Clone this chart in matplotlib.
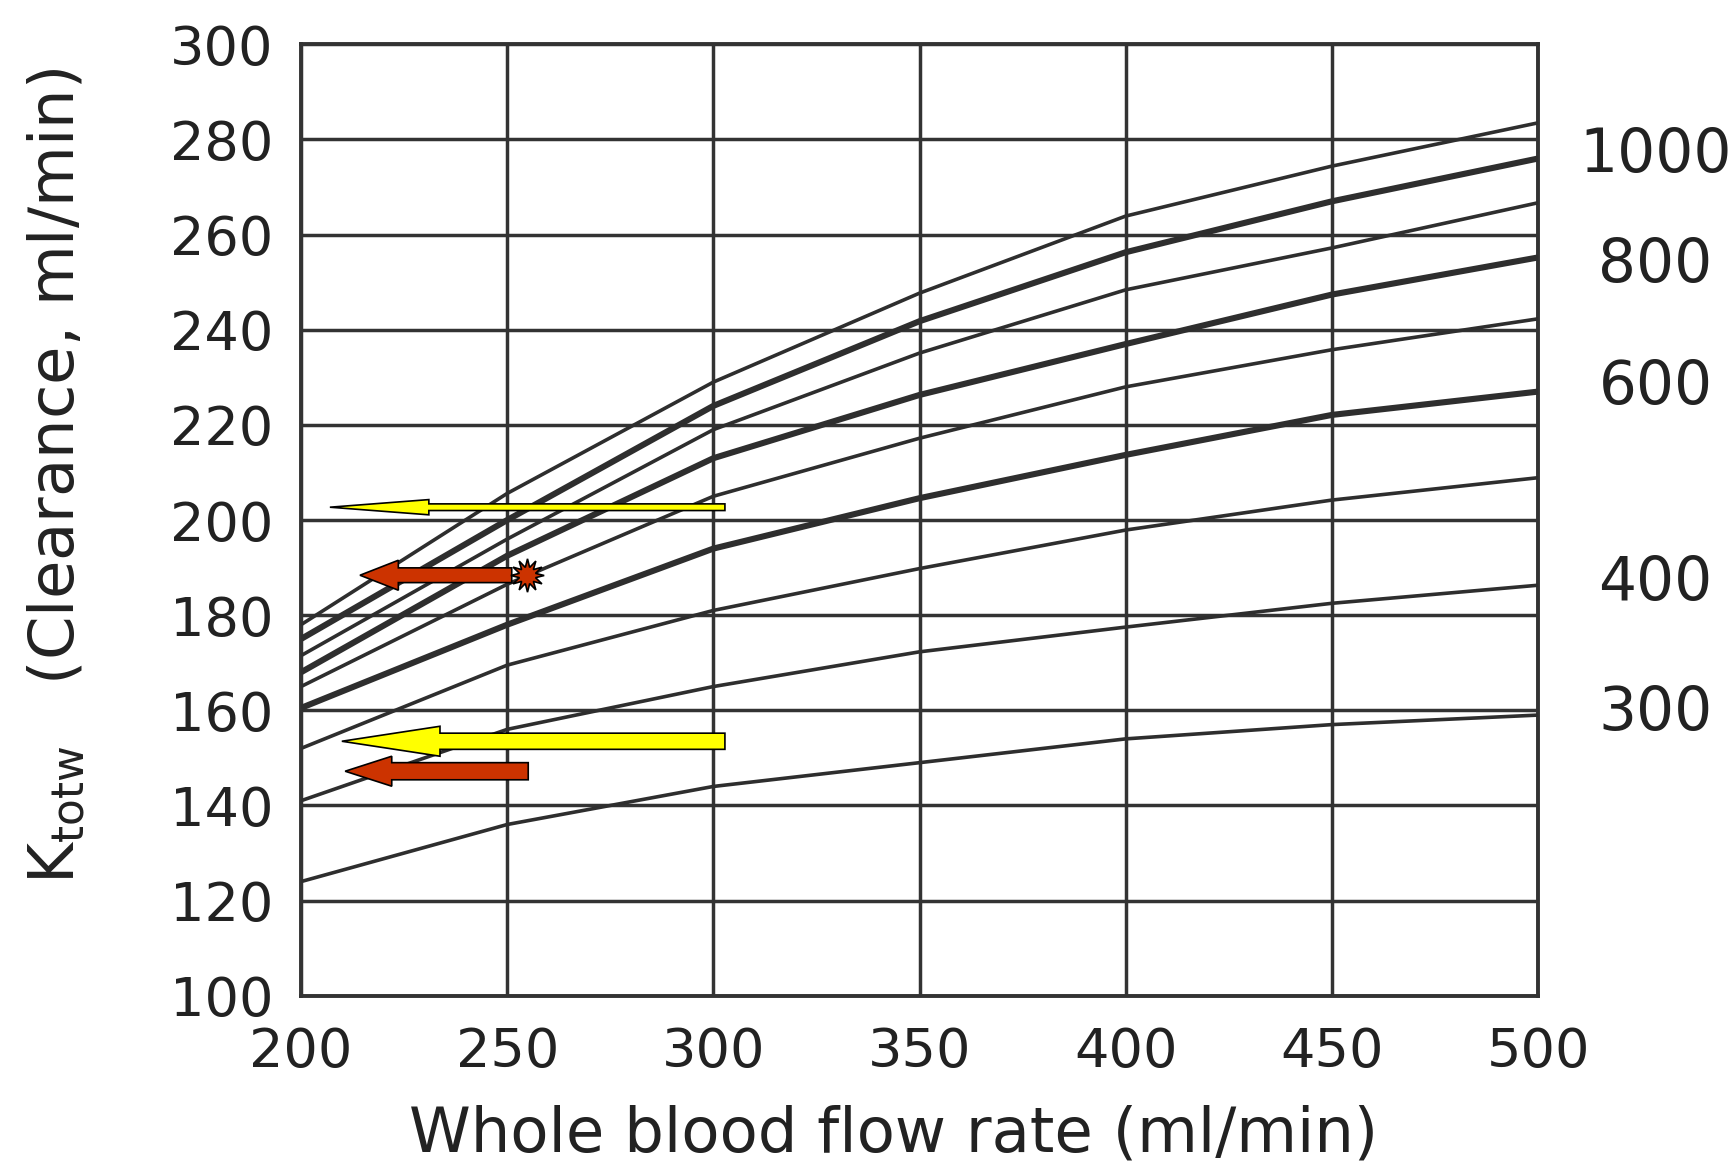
import matplotlib
matplotlib.use("Agg")
import matplotlib.pyplot as plt
from matplotlib.patches import FancyArrow

# ---- data ----
x_flow = [200, 250, 300, 350, 400, 450, 500]
k_1200 = [178.0, 205.6, 229.0, 247.7, 263.9, 274.4, 283.5]
k_1000 = [175.0, 200.0, 224.0, 241.8, 256.3, 267.0, 276.0]
k_900 = [171.5, 196.0, 219.0, 235.1, 248.4, 257.2, 266.7]
k_800 = [168.0, 192.5, 213.0, 226.3, 237.0, 247.4, 255.2]
k_700 = [165.0, 186.5, 205.0, 217.2, 228.0, 235.8, 242.3]
k_600 = [160.5, 178.0, 194.0, 204.6, 213.7, 222.1, 227.0]
k_500 = [152.0, 169.5, 181.0, 189.8, 197.9, 204.2, 208.9]
k_400 = [141.0, 156.0, 165.0, 172.3, 177.5, 182.5, 186.3]
k_300 = [124.0, 136.0, 144.0, 149.0, 154.0, 157.0, 159.0]

curves = [k_1200, k_1000, k_900, k_800, k_700, k_600, k_500, k_400, k_300]
thick = [False, True, False, True, False, True, False, False, False]

right_labels = ["1000", "800", "600", "400", "300"]

x_ticks = [200, 250, 300, 350, 400, 450, 500]
y_ticks = [100, 120, 140, 160, 180, 200, 220, 240, 260, 280, 300]

# layout: vertical positions of the right-hand labels (data units)
right_label_y = [276.7, 253.5, 227.9, 186.7, 159.3]

# annotation arrows: (tail x, tip x, y, shaft width, head width, head length, colour)
arrows = [
    (302.8, 207.0, 202.7, 1.4, 3.2, 24.0, "#FFFF00"),
    (251.1, 214.3, 188.4, 3.1, 6.3, 9.3, "#CC3300"),
    (302.8, 209.9, 153.5, 3.4, 6.3, 23.8, "#FFFF00"),
    (255.1, 210.7, 147.2, 3.6, 6.3, 11.3, "#CC3300"),
]
burst_x = [254.7]
burst_y = [188.5]

# ---- figure ----
fig = plt.figure(figsize=(17.35, 11.73), dpi=100)
ax = fig.add_axes([0.1735, 0.1511, 0.713, 0.8111])

ink = "#222222"
for ys, t in zip(curves, thick):
    ax.plot(x_flow, ys, color="#2e2e2e", lw=4.4 if t else 2.6,
            solid_capstyle="butt", zorder=3)

ax.set_xlim(200, 500)
ax.set_ylim(100, 300)
ax.set_xticks(x_ticks)
ax.set_yticks(y_ticks)
ax.grid(True, color="#333333", lw=2.5, zorder=1)
ax.set_axisbelow(True)
for s in ax.spines.values():
    s.set_linewidth(2.8)
    s.set_color("#333333")

ax.tick_params(length=0, labelsize=39, labelcolor=ink)
ax.tick_params(axis="x", pad=22)
ax.tick_params(axis="y", pad=20)

ax.set_xlabel("Whole blood flow rate (ml/min)", fontsize=45, color=ink)
ax.set_ylabel(r"K$_{\mathrm{totw}}$   (Clearance, ml/min)", fontsize=45,
              color=ink)
ax.xaxis.set_label_coords(0.4786, -0.1453)
ax.xaxis.label.set_va("center")
ax.yaxis.set_label_coords(-0.198, 0.546)
ax.yaxis.label.set_va("center")

for lab, yy in zip(right_labels, right_label_y):
    ax.text(528.5, yy, lab, fontsize=43, color=ink, ha="center",
            va="center", clip_on=False)

for tail, tip, yy, w, hw, hl, col in arrows:
    arr = FancyArrow(tail, yy, tip - tail, 0, width=w, head_width=hw,
                     head_length=hl, length_includes_head=True,
                     facecolor=col, edgecolor="black", lw=1.2, zorder=6)
    ax.add_patch(arr)

ax.plot(burst_x, burst_y, marker=(12, 1, 0), markersize=24, color="#CC3300",
        markeredgecolor="black", markeredgewidth=1.2, zorder=7, ls="none")

fig.savefig("out.png", dpi=100, facecolor="white")
